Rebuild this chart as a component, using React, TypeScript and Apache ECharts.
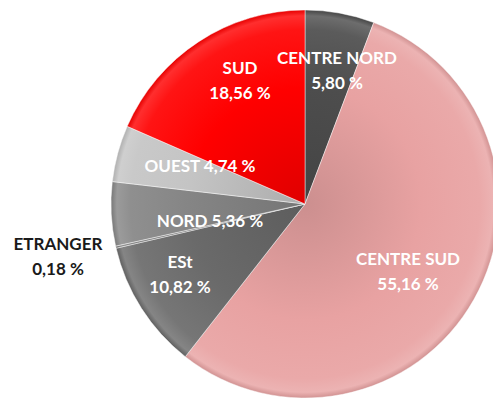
import React, { useEffect, useRef } from "react";
import * as echarts from "echarts";

const categories = ["CENTRE NORD", "CENTRE SUD", "ESt", "ETRANGER", "NORD", "OUEST", "SUD"];
const values = [5.8, 55.16, 10.82, 0.18, 5.36, 4.74, 18.56];
const valueLabels = ["5,80 %", "55,16 %", "10,82 %", "0,18 %", "5,36 %", "4,74 %", "18,56 %"];

const colors = ["#4d4d4d", "#e8a2a2", "#6a6a6a", "#777777", "#858585", "#c4c4c4", "#ff0000"];
const labelPos: [number, number][] = [
  [337, 70], [408, 271], [180, 274], [58, 256], [210, 220], [200, 165], [240, 80],
];
const twoLine = [true, true, true, true, false, false, true];

const CX = 305, CY = 204, R = 194;

function shade(hex: string, f: number) {
  const n = parseInt(hex.slice(1), 16);
  let r = (n >> 16) & 255, g = (n >> 8) & 255, b = n & 255;
  const adj = (c: number) => f >= 0 ? Math.round(c + (255 - c) * f) : Math.round(c * (1 + f));
  return `rgb(${adj(r)},${adj(g)},${adj(b)})`;
}

export default function App() {
  const ref = useRef<HTMLDivElement>(null);
  useEffect(() => {
    const chart = echarts.init(ref.current!, null, { renderer: "svg" });
    const data = categories.map((name, i) => ({
      name,
      value: values[i],
      itemStyle: {
        color: {
          type: "radial", x: CX, y: CY, r: R, global: true,
          colorStops: [
            { offset: 0, color: shade(colors[i], -0.12) },
            { offset: 0.6, color: colors[i] },
            { offset: 0.9, color: shade(colors[i], 0.08) },
            { offset: 0.97, color: shade(colors[i], 0.18) },
            { offset: 1, color: shade(colors[i], -0.1) },
          ],
        },
      },
      label: i === 3
        ? { color: "#1a1a1a" }
        : { color: "#ffffff" },
    }));
    chart.setOption({
      animation: false,
      series: [
        {
          type: "pie",
          center: [CX, CY],
          radius: [0, R],
          startAngle: 90,
          clockwise: true,
          avoidLabelOverlap: false,
          itemStyle: { borderColor: "rgba(255,255,255,0.45)", borderWidth: 1 },
          label: {
            show: true,
            position: "inside",
            fontFamily: "Lato",
            fontWeight: "bold",
            fontSize: 17,
            lineHeight: 25,
            align: "center",
            formatter: (p: any) =>
              twoLine[p.dataIndex] ? `${p.name}\n${valueLabels[p.dataIndex]}` : `${p.name} ${valueLabels[p.dataIndex]}`,
          },
          labelLine: { show: false },
          labelLayout: (p: any) => ({
            x: labelPos[p.dataIndex][0],
            y: labelPos[p.dataIndex][1],
            align: "center",
            verticalAlign: "middle",
          }),
          data,
        },
      ],
    });
    return () => chart.dispose();
  }, []);
  return (
    <div
      ref={ref}
      style={{ position: "absolute", left: 0, top: 0, width: 493, height: 401, background: "#fff" }}
    />
  );
}
